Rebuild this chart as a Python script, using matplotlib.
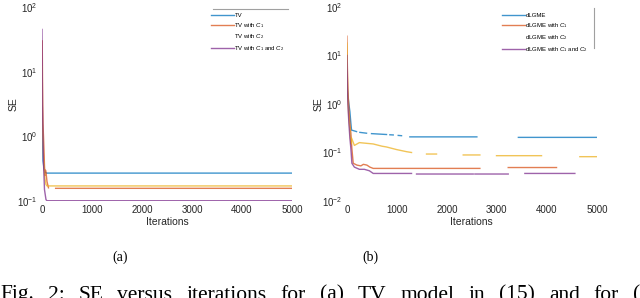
import numpy as np
import matplotlib
matplotlib.use('Agg')
import matplotlib.pyplot as plt

nan = np.nan

# MATLAB default line colours
colors = ['#0072BD', '#D95319', '#EDB120', '#7E2F8E']

# ---- (a) TV model ----
tv_it = [0, 10, 20, 40, 60, 90, 5000]
tv_se = [3.0, 1.0, 0.42, 0.32, 0.28, 0.27, 0.27]

tv_c1_it = [0, 5, 10, 15, 20, 30, 40, 50, 60, 70, 80, 100, 130, 200, 273, 720, 740, 5000]
tv_c1_se = [20.0, 30.0, 8.0, 3.0, 1.6, 1.0, 0.6, 0.35, 0.25, 0.3, 0.28, 0.2, 0.16, nan, 0.157, 0.157, 0.157, 0.157]

tv_c2_it = [0, 10, 20, 30, 45, 60, 80, 100, 5000]
tv_c2_se = [12.0, 1.3, 0.9, 0.5, 0.3, 0.22, 0.18, 0.171, 0.171]

tv_c12_it = [0, 5, 10, 20, 30, 50, 80, 100, 5000]
tv_c12_se = [45.0, 12.0, 3.0, 1.0, 0.4, 0.15, 0.105, 0.101, 0.101]

# ---- (b) dLGME ----
dl_it = [0, 10, 20, 40, 60, 80, 93, 193, 200, 260, 393, 400, 493, 793, 800,
         860, 927, 935, 1027, 1093, 1100, 1260, 2600, 2610, 3430, 5000]
dl_se = [5.0, 2.0, 1.5, 1.0, 0.7, 0.4, 0.29, 0.27, nan, 0.26, 0.25, nan, 0.245, 0.235, nan,
         0.232, 0.23, nan, 0.225, 0.222, nan, 0.21, 0.21, nan, 0.205, 0.205]

dl_c1_it = [0, 10, 20, 40, 60, 80, 100, 127, 200, 280, 330, 400, 460, 527, 2660, 2670, 3227, 4193]
dl_c1_se = [25.0, 6.0, 2.0, 0.8, 0.4, 0.25, 0.12, 0.06, 0.055, 0.053, 0.057, 0.055, 0.05, 0.047, 0.047,
            nan, 0.049, 0.049]

dl_c2_it = [0, 10, 20, 40, 60, 80, 93, 150, 250, 327, 527, 700, 793, 993, 1193, 1293, 1300,
            1593, 1793, 1800, 2327, 2660, 2670, 2993, 3893, 3900, 4660, 4993]
dl_c2_se = [18.0, 4.0, 1.2, 0.5, 0.3, 0.15, 0.2, 0.14, 0.16, 0.157, 0.15, 0.135, 0.13, 0.115, 0.104,
            0.1, nan, 0.093, 0.093, nan, 0.089, 0.089, nan, 0.086, 0.086, nan, 0.082, 0.082]

dl_c12_it = [0, 10, 20, 40, 60, 80, 100, 150, 250, 350, 450, 527, 560, 1293, 1300, 1393,
             2527, 2540, 2560, 3227, 3240, 3560, 4560]
dl_c12_se = [10.0, 3.0, 1.0, 0.4, 0.2, 0.12, 0.06, 0.05, 0.045, 0.045, 0.042, 0.037, 0.037, 0.037,
             nan, 0.036, 0.036, nan, 0.036, 0.036, nan, 0.037, 0.037]

labels_a = ['TV', r'TV with $C_1$', r'TV with $C_2$', r'TV with $C_1$ and $C_2$']
labels_b = ['dLGME', r'dLGME with $C_1$', r'dLGME with $C_2$', r'dLGME with $C_1$ and $C_2$']

xticks = [0, 1000, 2000, 3000, 4000, 5000]

caption_words = ['Fig.', '2:', 'SE', 'versus', 'iterations', 'for', '(a)', 'TV', 'model',
                 'in', '(15)', 'and', 'for', '(']

plt.rcParams['font.family'] = ['Liberation Sans', 'DejaVu Sans']
plt.rcParams['mathtext.fontset'] = 'custom'
plt.rcParams['mathtext.rm'] = 'Liberation Sans'
plt.rcParams['mathtext.it'] = 'Liberation Sans:italic'

fig = plt.figure(figsize=(6.4, 2.98), dpi=100)
ax1 = fig.add_axes([0.0656, 0.3255, 0.3906, 0.651])
ax2 = fig.add_axes([0.542, 0.3255, 0.3906, 0.651])

series_a = [(tv_it, tv_se), (tv_c1_it, tv_c1_se), (tv_c2_it, tv_c2_se), (tv_c12_it, tv_c12_se)]
series_b = [(dl_it, dl_se), (dl_c1_it, dl_c1_se), (dl_c2_it, dl_c2_se), (dl_c12_it, dl_c12_se)]

for ax, series, labels, ylim in [(ax1, series_a, labels_a, (0.1, 100)),
                                 (ax2, series_b, labels_b, (0.01, 100))]:
    for i, (x, y) in enumerate(series):
        ax.plot(x, y, color=colors[i], lw=1.0, alpha=0.75, label=labels[i])
    ax.set_yscale('log')
    ax.set_xlim(0, 5000)
    ax.set_ylim(*ylim)
    ax.set_xticks(xticks)
    ax.minorticks_off()
    for s in ax.spines.values():
        s.set_visible(False)
    ax.tick_params(length=0, labelsize=7, colors='#262626', pad=3)
    ax.set_xlabel('Iterations', fontsize=7.5, color='#262626', labelpad=1)
    ax.set_ylabel('SE', fontsize=7.5, color='#262626', labelpad=-1)

leg1 = ax1.legend(loc='upper right', bbox_to_anchor=(0.99, 0.995), fontsize=4.3, frameon=False,
                  handlelength=3.8, handletextpad=0.1, labelspacing=0.45, borderpad=0.3)
leg2 = ax2.legend(loc='upper right', bbox_to_anchor=(0.985, 0.995), fontsize=4.3, frameon=False,
                  handlelength=3.8, handletextpad=0.1, labelspacing=0.55, borderpad=0.3)
for leg in (leg1, leg2):
    leg.get_lines()[2].set_alpha(0.0)

ax1.plot([0.684, 0.984], [0.99, 0.99], transform=ax1.transAxes, color='#a0a0a0', lw=0.8, clip_on=False)
ax2.plot([0.988, 0.988], [0.995, 0.789], transform=ax2.transAxes, color='#a0a0a0', lw=0.8, clip_on=False)

fig.text(120 / 640, 1 - 257 / 298, '(a)', ha='center', va='center', fontsize=10, family='Liberation Serif')
fig.text(370 / 640, 1 - 257 / 298, '(b)', ha='center', va='center', fontsize=10, family='Liberation Serif')

# justified caption line: spread words evenly so the last one starts near x = 633 px
renderer = fig.canvas.get_renderer()
texts = [fig.text(0, 1 - 299.5 / 298, w, ha='left', va='baseline', fontsize=15.5,
                  family='Liberation Serif') for w in caption_words]
widths = [t.get_window_extent(renderer).width for t in texts]
gap = (633 - sum(widths[:-1])) / (len(texts) - 1)
xp = 0.0
for t, wd in zip(texts, widths):
    t.set_x(xp / 640)
    xp += wd + gap

fig.savefig('out.png', dpi=100)
